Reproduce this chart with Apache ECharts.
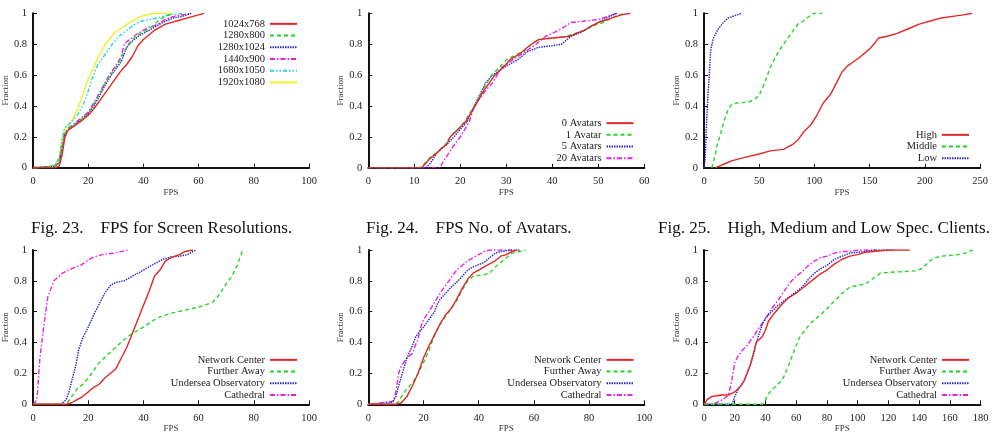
<!DOCTYPE html>
<html>
<head>
<meta charset="utf-8">
<script src="https://cdn.jsdelivr.net/npm/echarts@6/dist/echarts.min.js"></script>
<style>
  html, body { margin: 0; padding: 0; background: #fff; }
  #chart { width: 994px; height: 446px; }
</style>
</head>
<body>
<div id="chart"></div>
<script>
// Fig. 23 - screen resolutions, [FPS, fraction]
var res1024x768 = [[0,0],[5,0],[8,0],[9.5,0.01],[10.5,0.08],[11.5,0.19],[12.5,0.24],[15,0.27],[18,0.31],[20,0.34],[22,0.38],[24,0.43],[26,0.48],[28,0.53],[30,0.58],[32,0.63],[34,0.67],[36,0.72],[38,0.79],[40,0.83],[42,0.86],[44,0.89],[46,0.91],[48,0.93],[50,0.94],[53,0.955],[56,0.97],[58,0.98],[60,0.99],[62,1]];
var res1280x800 = [[0,0],[5,0.005],[8,0.01],[9.5,0.04],[10.5,0.14],[11.5,0.22],[13,0.26],[16,0.29],[18,0.32],[20,0.35],[22,0.41],[24,0.47],[26,0.54],[28,0.6],[30,0.65],[32,0.71],[34,0.79],[36,0.83],[38,0.86],[40,0.88],[42,0.9],[44,0.93],[46,0.96],[48,0.98],[51,1]];
var res1280x1024 = [[0,0],[5,0.005],[8,0.01],[9.5,0.03],[10.5,0.12],[11.5,0.21],[13,0.25],[16,0.29],[18,0.32],[20,0.35],[22,0.4],[24,0.46],[26,0.53],[28,0.59],[30,0.64],[32,0.69],[34,0.78],[36,0.82],[38,0.85],[40,0.87],[42,0.89],[44,0.91],[46,0.93],[48,0.95],[51,0.97],[54,0.98],[57.5,1]];
var res1440x900 = [[0,0],[5,0.005],[8,0.01],[9.5,0.04],[10.5,0.13],[11.5,0.22],[13,0.26],[16,0.3],[18,0.33],[20,0.36],[22,0.42],[24,0.48],[26,0.55],[28,0.61],[30,0.66],[32,0.72],[33,0.8],[35,0.83],[38,0.87],[40,0.89],[42,0.91],[44,0.92],[46,0.94],[48,0.96],[51,0.98],[54,0.99],[57,1]];
var res1680x1050 = [[0,0],[5,0.005],[8,0.02],[9.5,0.06],[10.5,0.18],[11.5,0.26],[13.5,0.29],[16,0.34],[18,0.4],[19.5,0.47],[21.5,0.58],[23.5,0.67],[26,0.73],[28.7,0.8],[31,0.85],[34.7,0.9],[37,0.93],[39.5,0.95],[42,0.96],[45,0.97],[49,0.99],[54,1]];
var res1920x1080 = [[0,0],[5,0.005],[8,0.02],[9.5,0.07],[10.5,0.19],[11.5,0.25],[14,0.3],[16.6,0.4],[18,0.47],[19.9,0.57],[22,0.65],[24,0.73],[25.9,0.79],[28,0.84],[30,0.88],[31.7,0.9],[34,0.93],[36,0.95],[38,0.97],[40,0.985],[44,1],[50,1]];

// Fig. 24 - number of avatars
var av0 = [[0,0],[11.5,0],[12.5,0.03],[13.4,0.06],[15,0.1],[16,0.13],[17,0.15],[17.8,0.2],[19.5,0.25],[21.2,0.3],[23.2,0.4],[25.1,0.5],[27.5,0.6],[29.3,0.65],[30.8,0.7],[33,0.74],[35,0.79],[37,0.83],[40,0.84],[43.5,0.85],[44.5,0.86],[46,0.88],[47,0.89],[48,0.91],[50,0.94],[51,0.95],[53,0.97],[55,0.99],[57,1]];
var av1 = [[0,0],[11,0],[12,0.02],[13.5,0.07],[15,0.1],[16.5,0.14],[18,0.21],[19.5,0.25],[21,0.3],[23,0.4],[24.8,0.5],[26.8,0.6],[28.5,0.65],[30,0.7],[32,0.73],[34,0.76],[35.5,0.8],[37,0.83],[40,0.84],[43,0.85],[45,0.87],[47,0.89],[49,0.92],[51,0.94],[53,0.97],[54.5,0.99],[56,1]];
var av5 = [[0,0],[12.5,0],[13.5,0.03],[15,0.1],[17,0.15],[18.6,0.2],[20,0.25],[21.5,0.3],[23,0.4],[24.7,0.5],[25.5,0.55],[27,0.6],[29.5,0.65],[32.5,0.7],[34.5,0.75],[37,0.78],[40,0.79],[42,0.8],[44,0.85],[46.5,0.88],[47.5,0.9],[50.5,0.95],[52.5,0.98],[54,1]];
var av20 = [[0,0],[15.5,0],[16.5,0.05],[18,0.12],[20,0.2],[22,0.3],[23,0.4],[24.5,0.46],[25.5,0.5],[27,0.55],[28,0.6],[29,0.65],[31.5,0.7],[34,0.75],[36.5,0.8],[38.5,0.85],[40,0.87],[42,0.9],[44,0.94],[47,0.95],[50,0.96],[52,0.98],[54,1]];

// Fig. 25 - client spec
var specHigh = [[10,0],[20,0.03],[25,0.045],[35,0.065],[50,0.09],[60,0.11],[72,0.12],[80,0.15],[85,0.18],[90,0.23],[97,0.28],[103,0.35],[108,0.42],[115,0.48],[120,0.55],[125,0.62],[130,0.66],[136,0.69],[142,0.72],[150,0.77],[155,0.81],[158,0.84],[165,0.85],[175,0.87],[185,0.9],[195,0.93],[205,0.95],[215,0.97],[225,0.98],[235,0.99],[243,1]];
var specMiddle = [[7,0],[10,0.08],[12,0.15],[15,0.22],[18,0.3],[22,0.38],[25,0.41],[30,0.42],[40,0.425],[45,0.44],[50,0.47],[55,0.55],[60,0.65],[65,0.72],[70,0.78],[75,0.83],[80,0.88],[85,0.93],[90,0.95],[97,0.99],[100,1],[107,1]];
var specLow = [[0,0],[1,0.05],[1.8,0.2],[3,0.4],[4.8,0.6],[6,0.76],[8.5,0.84],[13,0.9],[17.5,0.94],[22,0.97],[28,0.985],[34,1]];

// bottom row - locations (three runs)
var locNetA = [[0,0],[12,0],[14,0.01],[16,0.03],[18,0.05],[20,0.08],[22,0.11],[24,0.13],[26,0.17],[28,0.2],[30,0.23],[32,0.3],[34,0.37],[36,0.46],[38,0.55],[40,0.64],[42,0.73],[44,0.83],[46,0.87],[48,0.93],[50,0.95],[53,0.97],[55,0.99],[58,1]];
var locFarA = [[0,0],[12,0],[14,0.05],[16,0.1],[18,0.13],[20,0.17],[22,0.22],[24,0.27],[27,0.32],[30,0.37],[33,0.42],[36,0.46],[40,0.5],[45,0.56],[50,0.59],[55,0.61],[60,0.63],[65,0.66],[67,0.7],[70,0.78],[72,0.83],[74,0.9],[76,1]];
var locSeaA = [[0,0],[10,0],[12,0.03],[13,0.08],[14,0.15],[15.5,0.25],[16.5,0.35],[18,0.43],[20,0.5],[22,0.58],[24,0.65],[26,0.72],[28,0.77],[30,0.79],[33,0.8],[36,0.83],[40,0.87],[44,0.91],[47,0.94],[50,0.955],[53,0.96],[56,0.97],[58,0.99],[59,1]];
var locCatA = [[0,0],[1,0.02],[1.5,0.05],[2.5,0.3],[3.5,0.45],[4.6,0.6],[5.4,0.7],[7.6,0.8],[10.6,0.85],[15.4,0.89],[17.2,0.9],[21.4,0.95],[25,0.97],[29.3,0.98],[34.5,1]];

var locNetB = [[0,0],[10,0],[12,0.01],[14,0.05],[16,0.12],[18,0.2],[20,0.3],[22,0.38],[24,0.45],[26,0.52],[28,0.58],[30,0.62],[32,0.68],[34,0.75],[36,0.81],[38,0.85],[40,0.87],[42,0.89],[44,0.91],[46,0.93],[48,0.96],[50,0.97],[52,0.99],[54,1]];
var locFarB = [[0,0],[10,0],[11,0.02],[12,0.05],[14,0.1],[16,0.14],[18,0.2],[20,0.27],[22,0.35],[24,0.45],[26,0.52],[28,0.57],[30,0.62],[32,0.67],[34,0.74],[36,0.8],[38,0.83],[42,0.84],[44,0.85],[46,0.89],[48,0.92],[50,0.95],[52,0.98],[55,0.99],[57,1]];
var locSeaB = [[0,0],[8,0.01],[9,0.02],[10,0.05],[11,0.12],[12,0.18],[13,0.24],[14,0.3],[16,0.38],[17,0.43],[18,0.46],[20,0.5],[22,0.55],[24,0.6],[25,0.65],[26,0.68],[28,0.72],[30,0.76],[32,0.79],[34,0.83],[36,0.87],[38,0.89],[42,0.92],[44,0.95],[46,0.98],[48,0.99],[52,1],[55,1]];
var locCatB = [[0,0],[5,0.01],[9,0.02],[10,0.08],[11,0.2],[12,0.25],[14,0.3],[16,0.33],[17,0.38],[18,0.42],[19,0.5],[20,0.55],[22,0.6],[24,0.66],[26,0.72],[28,0.77],[30,0.82],[32,0.87],[34,0.9],[36,0.93],[38,0.95],[40,0.97],[42,0.99],[44,1],[52,1]];

var locNetC = [[0,0],[2,0.03],[5,0.05],[8,0.055],[12,0.06],[16,0.06],[18,0.07],[20,0.08],[22,0.1],[24,0.12],[26,0.15],[28,0.2],[30,0.25],[32,0.32],[34,0.4],[36,0.42],[38,0.44],[40,0.48],[42,0.54],[45,0.58],[50,0.64],[55,0.69],[60,0.72],[65,0.76],[70,0.8],[75,0.84],[80,0.87],[85,0.91],[90,0.94],[95,0.96],[100,0.97],[105,0.985],[110,0.99],[120,1],[134,1]];
var locFarC = [[0,0],[38,0],[40,0.03],[42,0.07],[45,0.1],[48,0.13],[50,0.15],[52,0.18],[55,0.25],[58,0.33],[60,0.38],[62,0.43],[65,0.47],[68,0.51],[72,0.55],[76,0.58],[80,0.62],[85,0.67],[90,0.72],[95,0.76],[100,0.77],[105,0.78],[108,0.8],[112,0.83],[115,0.85],[120,0.855],[130,0.86],[138,0.865],[142,0.88],[147,0.93],[150,0.95],[155,0.96],[165,0.97],[170,0.98],[175,1]];
var locSeaC = [[0,0],[18,0],[19,0.02],[20,0.05],[22,0.09],[24,0.12],[26,0.15],[28,0.2],[30,0.25],[32,0.32],[34,0.4],[36,0.46],[38,0.52],[40,0.56],[44,0.6],[48,0.64],[52,0.67],[56,0.7],[60,0.73],[64,0.76],[68,0.81],[72,0.85],[76,0.88],[80,0.9],[85,0.94],[90,0.96],[95,0.98],[100,0.985],[105,0.99],[110,1],[124,1]];
var locCatC = [[0,0],[5,0],[8,0.01],[12,0.03],[16,0.06],[18,0.15],[20,0.27],[22,0.31],[25,0.35],[28,0.38],[30,0.41],[33,0.45],[36,0.5],[40,0.55],[44,0.62],[48,0.67],[52,0.73],[56,0.79],[60,0.83],[64,0.86],[68,0.9],[72,0.93],[76,0.95],[80,0.96],[85,0.98],[90,0.99],[95,0.99],[100,1],[112,1]];

var resNames = ['1024x768', '1280x800', '1280x1024', '1440x900', '1680x1050', '1920x1080'];
var avatarNames = ['0 Avatars', '1 Avatar', '5 Avatars', '20 Avatars'];
var specNames = ['High', 'Middle', 'Low'];
var locNames = ['Network Center', 'Further Away', 'Undersea Observatory', 'Cathedral'];
var xMaxes = [100, 60, 250, 100, 100, 180];
var xSteps = [20, 10, 50, 20, 20, 20];
var captions = ['Fig. 23.    FPS for Screen Resolutions.', 'Fig. 24.    FPS No. of Avatars.', 'Fig. 25.    High, Medium and Low Spec. Clients.'];

var serif = '"Liberation Serif", "DejaVu Serif", serif';

// gnuplot-ish line types
var styles = [
    { color: '#e02828', type: 'solid' },
    { color: '#22d822', type: [4, 3] },
    { color: '#2828d0', type: [1.5, 1] },
    { color: '#e820e8', type: [5, 2, 1.5, 2] },
    { color: '#20d8d8', type: [4, 2, 1.5, 2, 1.5, 2] },
    { color: '#f0f028', type: 'solid' }
];

var panels = [
    { names: resNames, data: [res1024x768, res1280x800, res1280x1024, res1440x900, res1680x1050, res1920x1080] },
    { names: avatarNames, data: [av0, av1, av5, av20] },
    { names: specNames, data: [specHigh, specMiddle, specLow] },
    { names: locNames, data: [locNetA, locFarA, locSeaA, locCatA] },
    { names: locNames, data: [locNetB, locFarB, locSeaB, locCatB] },
    { names: locNames, data: [locNetC, locFarC, locSeaC, locCatC] }
];

// plot boxes [left, top, width, height]
var boxes = [
    [32.3, 13.3, 276.7, 154.4],
    [368.3, 13.3, 276, 154.6],
    [704, 13.3, 276, 154.6],
    [32.3, 250, 276.7, 154.3],
    [368.3, 250, 276, 154.3],
    [704, 250, 276.5, 154.3]
];
// legend: [right end of line sample, first row centre]
var legendPos = [
    [298, 24],
    [634.5, 123.3],
    [970, 135],
    [298, 360],
    [634.5, 360],
    [970, 360]
];

var grids = [], xAxes = [], yAxes = [], series = [], legends = [];

panels.forEach(function (p, i) {
    var b = boxes[i];
    grids.push({ left: b[0], top: b[1], width: b[2], height: b[3] });
    xAxes.push({
        gridIndex: i, type: 'value', min: 0, max: xMaxes[i], interval: xSteps[i],
        name: 'FPS', nameLocation: 'middle', nameGap: 20,
        nameTextStyle: { fontFamily: serif, fontSize: 9, color: '#333' },
        axisLine: { lineStyle: { color: '#111', width: 2 } },
        axisTick: { inside: true, length: 4, lineStyle: { color: '#111' } },
        axisLabel: { fontFamily: serif, fontSize: 10.5, color: '#222', margin: 8 },
        splitLine: { show: false }
    });
    yAxes.push({
        gridIndex: i, type: 'value', min: 0, max: 1, interval: 0.2,
        name: 'Fraction', nameLocation: 'middle', nameGap: 22,
        nameTextStyle: { fontFamily: serif, fontSize: 9, color: '#333' },
        axisLine: { show: true, lineStyle: { color: '#111', width: 2 } },
        axisTick: { show: true, inside: true, length: 4, lineStyle: { color: '#111' } },
        axisLabel: { fontFamily: serif, fontSize: 10.5, color: '#222', margin: 6 },
        splitLine: { show: false }
    });
    p.names.forEach(function (n, k) {
        series.push({
            name: n, type: 'line', xAxisIndex: i, yAxisIndex: i,
            data: p.data[k], symbol: 'none', silent: true,
            lineStyle: { color: styles[k].color, type: styles[k].type, width: 1.4 },
            itemStyle: { color: styles[k].color },
            z: 10 - k
        });
    });
    legends.push({
        data: p.names, orient: 'vertical', align: 'right',
        right: 994 - legendPos[i][0], top: legendPos[i][1] - 6,
        padding: 0, itemGap: 0, itemWidth: 27, itemHeight: 11.7,
        selectedMode: false,
        itemStyle: { opacity: 0 },
        textStyle: { fontFamily: serif, fontSize: 10.5, color: '#222', lineHeight: 11.7 }
    });
});

var graphics = captions.map(function (c, i) {
    return {
        type: 'text', left: [31, 366, 658][i], top: 220,
        style: { text: c, font: '17px ' + serif, fill: '#111', whiteSpace: 'pre' }
    };
});

var myChart = echarts.init(document.getElementById('chart'));
var option = {
    animation: false,
    backgroundColor: '#fff',
    grid: grids,
    xAxis: xAxes,
    yAxis: yAxes,
    legend: legends,
    series: series,
    graphic: graphics
};
myChart.setOption(option);
</script>
</body>
</html>
